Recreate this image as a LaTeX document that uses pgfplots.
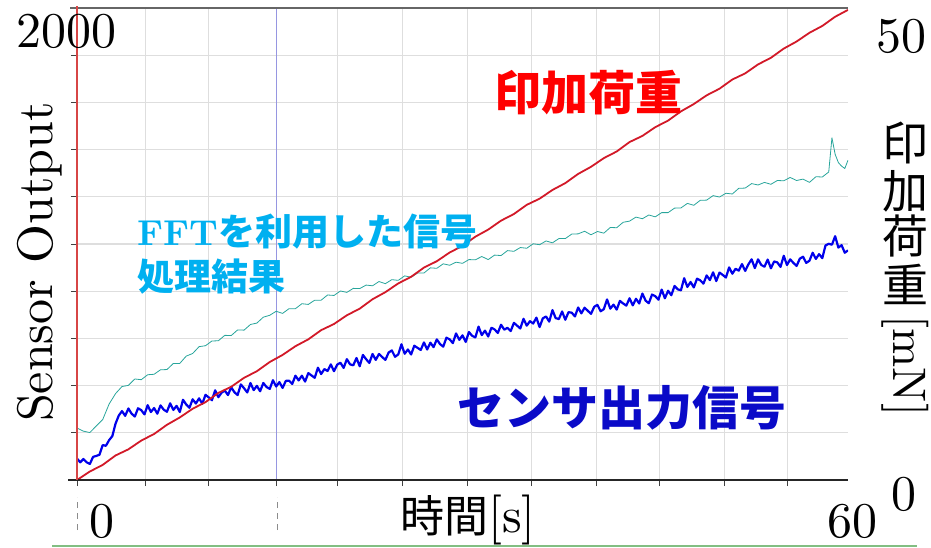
\documentclass[border=0pt]{standalone}
\usepackage{fontspec}
\setmainfont{lmroman10-regular}[Extension=.otf, BoldFont=lmroman10-bold]
\usepackage{pgfplots}
\pgfplotsset{compat=1.18}
\newfontfamily\cjk{Noto Sans CJK JP}
\definecolor{sblue}{RGB}{0,0,235}
\definecolor{steal}{RGB}{40,165,155}
\definecolor{sred}{RGB}{210,25,40}
\definecolor{lblue}{RGB}{0,176,240}
\definecolor{tblue}{RGB}{10,10,200}
\definecolor{vline}{RGB}{150,150,225}
\definecolor{gline}{RGB}{130,190,130}
\begin{document}
\begin{tikzpicture}
\path[use as bounding box] (0,0) rectangle (931pt,547pt);
\begin{axis}[
 scale only axis, width=771pt, height=472pt,
 at={(77pt,67pt)}, anchor=south west,
 xmin=0, xmax=60, ymin=0, ymax=2000,
 axis line style={draw=none},
 xtick={0,5.3,10.2,15.55,20.25,25.35,30.4,35.4,40.45,45.35,50.4,55.3},
 ytick={0,200,400,600,800,1000,1200,1400,1600,1800,2000},
 xticklabels={}, yticklabels={},
 xtick pos=bottom, ytick pos=left,
 tick align=outside, major tick length=6pt,
 tick style={black!75, line width=1pt},
 grid=major, grid style={black!13, line width=1.1pt},
 clip mode=individual,
]
\draw[vline, line width=1pt] (axis cs:15.55,0) -- (axis cs:15.55,2000);
\addplot[steal, line width=0.8pt, line join=round, mark=none] coordinates {
(0,220)(0.5,207)(1,201)(1.5,229)(2,256)(2.5,322)(3,366)(3.5,396)(4,401)(4.5,428)(5,425)(5.5,446)(6,448)(6.5,467)(7,468)(7.5,494)(8,494)(8.5,525)(9,536)(9.5,565)(10,569)(10.5,589)(11,590)(11.5,613)(12,612)(12.5,636)(13,635)(13.5,659)(14,665)(14.5,690)(15,698)(15.5,715)(16,706)(16.5,726)(17,726)(17.5,747)(18,744)(18.5,762)(19,762)(19.5,784)(20,782)(20.5,801)(21,795)(21.5,812)(22,811)(22.5,826)(23,823)(23.5,841)(24,832)(24.5,849)(25,846)(25.5,865)(26,859)(26.5,877)(27,877)(27.5,899)(28,897)(28.5,916)(29,910)(29.5,923)(30,918)(30.5,934)(31,933)(31.5,947)(32,934)(32.5,953)(33,951)(33.5,972)(34,969)(34.5,985)(35,982)(35.5,1001)(36,997)(36.5,1013)(37,1005)(37.5,1023)(38,1023)(38.5,1042)(39,1043)(39.5,1054)(40,1039)(40.5,1053)(41,1046)(41.5,1070)(42,1069)(42.5,1092)(43,1097)(43.5,1114)(44,1107)(44.5,1123)(45,1115)(45.5,1133)(46,1133)(46.5,1152)(47,1153)(47.5,1172)(48,1164)(48.5,1185)(49,1186)(49.5,1205)(50,1199)(50.5,1215)(51,1212)(51.5,1236)(52,1237)(52.5,1256)(53,1250)(53.5,1261)(54,1253)(54.5,1269)(55,1268)(55.5,1282)(56,1269)(56.5,1275)(57,1261)(57.5,1285)(58,1284)(58.5,1305)(58.75,1450)(59,1380)(59.25,1345)(59.5,1330)(59.75,1320)(60,1355)
};
\addplot[sblue, line width=2.2pt, line join=round, mark=none] coordinates {
(0,91)(0.25,75)(0.5,89)(0.75,75)(1,68)(1.25,98)(1.5,102)(1.75,107)(2,148)(2.25,145)(2.5,169)(2.75,186)(3,239)(3.25,273)(3.5,292)(3.75,272)(4,303)(4.25,281)(4.5,269)(4.75,304)(5,296)(5.25,278)(5.5,317)(5.75,288)(6,305)(6.25,281)(6.5,316)(6.75,298)(7,289)(7.25,325)(7.5,297)(7.75,314)(8,288)(8.25,340)(8.5,320)(8.75,306)(9,342)(9.25,324)(9.5,346)(9.75,323)(10,361)(10.25,350)(10.5,338)(10.75,380)(11,351)(11.25,370)(11.5,379)(11.75,360)(12,393)(12.25,372)(12.5,360)(12.75,405)(13,389)(13.25,371)(13.5,411)(13.75,381)(14,399)(14.25,376)(14.5,411)(14.75,394)(15,386)(15.25,423)(15.5,396)(15.75,415)(16,390)(16.25,420)(16.5,421)(16.75,407)(17,442)(17.25,422)(17.5,442)(17.75,417)(18,453)(18.25,443)(18.5,433)(18.75,476)(19,449)(19.25,470)(19.5,462)(19.75,490)(20,461)(20.25,489)(20.5,497)(20.75,475)(21,512)(21.25,490)(21.5,486)(21.75,517)(22,482)(22.25,530)(22.5,512)(22.75,496)(23,534)(23.25,509)(23.5,534)(23.75,521)(24,509)(24.25,540)(24.5,549)(24.75,522)(25,532)(25.25,575)(25.5,535)(25.75,553)(26,532)(26.25,569)(26.5,560)(26.75,551)(27,583)(27.25,553)(27.5,582)(27.75,563)(28,596)(28.25,576)(28.5,565)(28.75,603)(29,596)(29.25,580)(29.5,621)(29.75,594)(30,613)(30.25,585)(30.5,627)(30.75,611)(31,604)(31.25,650)(31.5,614)(31.75,633)(32,608)(32.25,645)(32.5,638)(32.75,623)(33,658)(33.25,637)(33.5,645)(33.75,631)(34,666)(34.25,654)(34.5,642)(34.75,683)(35,654)(35.25,673)(35.5,663)(35.75,688)(36,648)(36.25,685)(36.5,693)(36.75,671)(37,720)(37.25,686)(37.5,682)(37.75,714)(38,679)(38.25,711)(38.5,709)(38.75,693)(39,731)(39.25,706)(39.5,730)(39.75,717)(40,704)(40.25,734)(40.5,742)(40.75,715)(41,724)(41.25,765)(41.5,726)(41.75,743)(42,722)(42.25,759)(42.5,748)(42.75,739)(43,770)(43.25,740)(43.5,768)(43.75,748)(44,790)(44.25,760)(44.5,749)(44.75,786)(45,779)(45.25,764)(45.5,807)(45.75,770)(46,802)(46.25,783)(46.5,822)(46.75,808)(47,804)(47.25,855)(47.5,818)(47.75,839)(48,816)(48.25,853)(48.5,846)(48.75,832)(49,867)(49.25,847)(49.5,880)(49.75,843)(50,879)(50.25,869)(50.5,858)(50.75,901)(51,874)(51.25,895)(51.5,887)(51.75,915)(52,886)(52.25,914)(52.5,935)(52.75,898)(53,935)(53.25,911)(53.5,904)(53.75,934)(54,897)(54.25,926)(54.5,922)(54.75,903)(55,950)(55.25,911)(55.5,935)(55.75,920)(56,907)(56.25,938)(56.5,946)(56.75,920)(57,929)(57.25,963)(57.5,937)(57.75,957)(58,940)(58.25,994)(58.5,1001)(58.75,997)(59,1033)(59.25,985)(59.5,995)(59.75,963)(60,973)
};
\addplot[sred, line width=1.8pt, line join=round, mark=none] coordinates {
(0,0)(1,36)(2,64)(3,104)(4,130)(5,167)(6,195)(7,234)(8,265)(9,302)(10,330)(11,369)(12,395)(13,433)(14,461)(15,500)(16,530)(17,567)(18,596)(19,635)(20,661)(21,698)(22,726)(23,766)(24,796)(25,833)(26,861)(27,900)(28,927)(29,964)(30,992)(31,1031)(32,1061)(33,1099)(34,1127)(35,1166)(36,1192)(37,1229)(38,1258)(39,1297)(40,1327)(41,1364)(42,1392)(43,1432)(44,1458)(45,1495)(46,1523)(47,1562)(48,1593)(49,1630)(50,1658)(51,1697)(52,1723)(53,1761)(54,1789)(55,1828)(56,1858)(57,1895)(58,1924)(59,1963)(60,1992)
};
\end{axis}
% axis lines
\draw[black!60, line width=1.3pt] (70pt,539pt) -- (848pt,539pt);
\draw[black!85, line width=2pt] (68pt,67pt) -- (848pt,67pt);
\draw[color={rgb,255:red,215;green,70;blue,70}, line width=2pt] (77pt,67pt) -- (77pt,541pt);
% bottom decorations
\draw[black!45, dashed, dash pattern=on 6pt off 5pt, line width=1pt] (77pt,17pt) -- (77pt,50pt);
\draw[black!45, dashed, dash pattern=on 6pt off 5pt, line width=1pt] (277pt,17pt) -- (277pt,50pt);
\draw[gline, line width=2pt] (52pt,1pt) -- (917pt,1pt);
% numbers
\node[anchor=base, inner sep=0pt, font=\fontsize{50}{52}\selectfont] at (66.5pt,499pt) {2000};
\node[anchor=base, inner sep=0pt, font=\fontsize{50}{52}\selectfont] at (901.5pt,494pt) {50};
\node[anchor=base, inner sep=0pt, font=\fontsize{50}{52}\selectfont] at (904pt,37pt) {0};
\node[anchor=base, inner sep=0pt, font=\fontsize{50}{52}\selectfont] at (101.5pt,10pt) {0};
\node[anchor=base, inner sep=0pt, font=\fontsize{50}{52}\selectfont] at (852pt,10pt) {60};
% axis labels
\node[rotate=90, inner sep=0pt, font=\fontsize{50}{52}\selectfont] at (40pt,285pt) {Sensor Output};
\node[inner sep=0pt, font=\fontsize{50}{52}\selectfont] at (468pt,27pt) {{\cjk\fontsize{44}{46}\selectfont 時間}[s]};
\node[inner sep=0pt, font=\cjk\fontsize{46}{48}\selectfont] at (905pt,404pt) {印};
\node[inner sep=0pt, font=\cjk\fontsize{46}{48}\selectfont] at (905pt,356pt) {加};
\node[inner sep=0pt, font=\cjk\fontsize{46}{48}\selectfont] at (905pt,311pt) {荷};
\node[inner sep=0pt, font=\cjk\fontsize{46}{48}\selectfont] at (905pt,263pt) {重};
\node[rotate=-90, inner sep=0pt, font=\fontsize{47}{49}\selectfont] at (905pt,181pt) {[mN]};
% annotations
\node[inner sep=0pt, text=red, font=\cjk\bfseries\fontsize{47}{49}\selectfont] at (588.5pt,454.5pt) {印加荷重};
\node[inner sep=0pt, text=tblue, font=\cjk\bfseries\fontsize{47}{49}\selectfont] at (622pt,139pt) {センサ出力信号};
\node[anchor=west, inner sep=0pt, text=lblue] at (137pt,315pt) {{\bfseries\fontsize{36}{38}\selectfont FFT}{\cjk\bfseries\fontsize{37}{39}\selectfont を利用した信号}};
\node[anchor=west, inner sep=0pt, text=lblue, font=\cjk\bfseries\fontsize{37}{39}\selectfont] at (137pt,270pt) {処理結果};
\end{tikzpicture}
\end{document}
